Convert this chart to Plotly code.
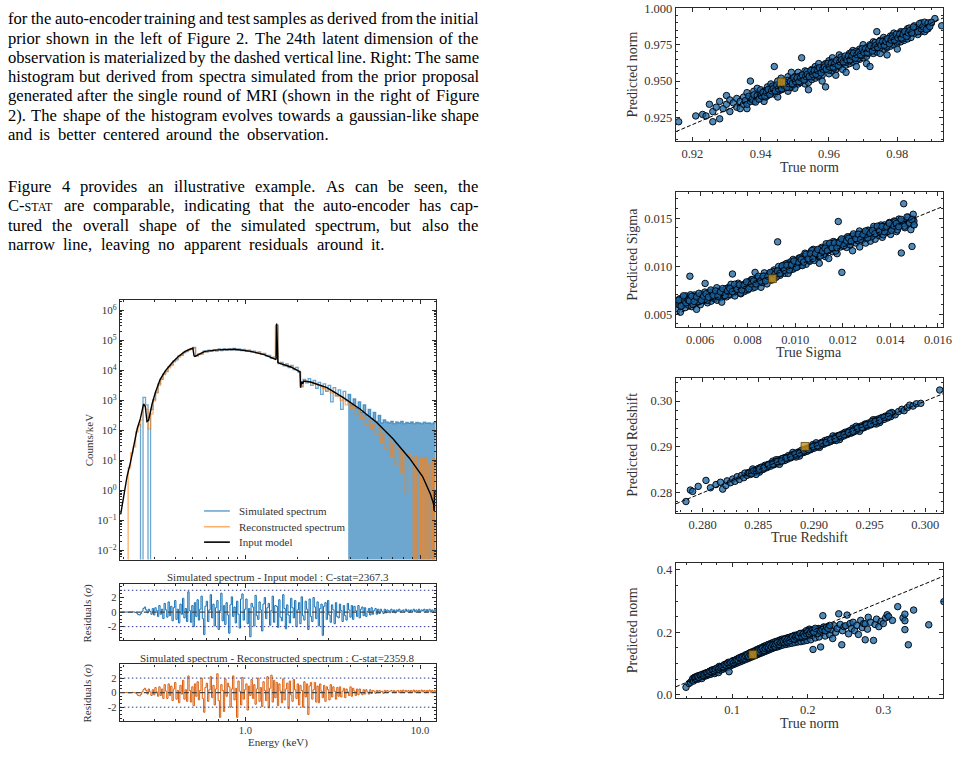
import numpy as np
import plotly.graph_objects as go

# ===================== DATA =====================
# Input model (black): energy (keV) and log10(counts/keV)
model_E = [0.193, 0.201, 0.210, 0.220, 0.230, 0.240, 0.250, 0.261, 0.267, 0.273,
           0.279, 0.292, 0.305, 0.325, 0.347, 0.379, 0.413, 0.451, 0.500, 0.508,
           0.514, 0.535, 0.585, 0.697, 0.867, 1.076, 1.28, 1.49, 1.500, 1.510,
           1.520, 1.535, 1.56, 1.82, 2.02, 2.055, 2.07, 2.10, 2.13, 2.16,
           2.36, 2.93, 3.64, 4.53, 5.63, 7.00, 8.70, 10.35, 11.5, 11.95,
           12.05, 12.1, 12.3]
model_logC = [-0.80, -0.14, 0.46, 0.95, 1.50, 2.05, 2.38, 2.875, 2.80, 2.29,
              2.33, 2.875, 3.26, 3.70, 3.97, 4.24, 4.46, 4.63, 4.74, 4.48,
              4.46, 4.52, 4.63, 4.68, 4.70, 4.63, 4.52, 4.36, 4.38, 5.56,
              4.30, 4.26, 4.24, 4.11, 3.97, 3.95, 3.42, 3.62, 3.55, 3.64,
              3.61, 3.42, 3.09, 2.71, 2.27, 1.72, 1.07, 0.46, -0.14, -0.45,
              -0.69, -0.05, -0.05]

# Simulated spectrum (log10 counts/keV, -6 = empty channel), channels 0.243-12.3 keV
sim_logC = [2.20, -6, 3.10, 2.85, -6, 2.70, 3.02, 3.25, 3.55, 3.70,
            3.88, 3.96, 4.12, 4.17, 4.31, 4.35, 4.48, 4.50, 4.60, 4.62,
            4.70, 4.72, 4.76, 4.48, 4.55, 4.54, 4.64, 4.61, 4.67, 4.63,
            4.69, 4.64, 4.71, 4.66, 4.72, 4.67, 4.71, 4.68, 4.73, 4.67,
            4.71, 4.66, 4.70, 4.63, 4.67, 4.61, 4.64, 4.57, 4.61, 4.53,
            4.56, 4.47, 4.50, 4.40, 4.44, 5.50, 4.22, 4.26, 4.15, 4.21,
            4.09, 4.16, 4.02, 4.10, 3.93, 3.45, 3.70, 3.58, 3.72, 3.50,
            3.66, 3.40, 3.60, 3.20, 3.55, 3.30, 3.50, 2.95, 3.42, 3.15,
            3.35, 2.70, 3.30, 2.98, 3.20, 2.85, 3.05, 2.75, 2.95, 2.60,
            2.85, 2.50, 2.70, 2.40, 2.60, 2.30, 2.50, 2.25, 2.35, 2.28,
            2.25, 2.30, 2.22, 2.28, 2.25, 2.30, 2.22, 2.26, 2.24, 2.28,
            2.22, 2.26, 2.25, 2.22, 2.27, 2.24, 2.25, 2.22, 2.26, 2.24]

# Reconstructed spectrum (log10 counts/keV), channels 0.206-12.2 keV
rec_logC = [-6, 0.75, 1.25, 1.45, 1.95, 2.15, 2.35, 2.80, 2.70, 2.05,
            2.55, 2.98, 3.27, 3.50, 3.71, 3.86, 3.97, 4.08, 4.19, 4.28,
            4.37, 4.44, 4.51, 4.57, 4.63, 4.67, 4.70, 4.73, 4.47, 4.52,
            4.56, 4.60, 4.62, 4.64, 4.65, 4.66, 4.67, 4.68, 4.68, 4.69,
            4.69, 4.69, 4.70, 4.70, 4.70, 4.69, 4.68, 4.67, 4.66, 4.64,
            4.63, 4.61, 4.60, 4.58, 4.55, 4.53, 4.50, 4.47, 4.43, 4.40,
            5.45, 4.26, 4.22, 4.19, 4.16, 4.14, 4.11, 4.07, 4.02, 3.97,
            3.48, 3.62, 3.63, 3.61, 3.60, 3.56, 3.54, 3.50, 3.46, 3.40,
            3.35, 3.36, 3.25, 3.28, 3.15, 3.12, 3.00, 3.05, 2.85, 2.92,
            2.70, 2.80, 2.55, 2.68, 2.40, 2.50, 2.20, 2.35, 2.05, 2.20,
            1.85, 2.05, 1.60, 1.90, 1.40, 1.70, 1.10, 1.55, 0.85, 1.40,
            0.60, 1.30, -0.10, 1.20, 1.10, 0.95, 1.15, -6, 1.05, 1.00,
            1.10, 0.90, -6, 1.05, 1.00]

# Residuals (sigma), channels 0.193-12.3 keV
res_sim = [0, 0, 0, 0, 0.02, 0, -0.02, 0, 0, 0.03, 0, -0.05, -0.15, -0.35, -0.4, -0.2, 0.1, 0.5, 0.7, 0.3,
           -0.1, 0.4, 0.1, -0.3, 0.5, -0.4, 0.6, 0.2, -0.6, 0.9, -0.3, 0.4, -0.9, 1.2, 0.3, -0.7, 1.4, -0.5, 0.8, -1.2,
           0.6, 1.6, -1.0, 0.4, -1.5, 1.1, -0.3, 1.9, -0.8, 0.5, -1.3, 2.8, 0.2, -1.4, 0.9, -2.0, 1.3, -0.6, 1.7, -1.1,
           0.4, 2.2, -0.9, -3.1, 0.8, 1.5, -1.3, 0.3, 2.4, -0.8, 1.1, -1.9, 0.6, 1.6, -2.4, 0.2, 2.6, -1.2, 0.9, -1.7,
           1.3, -0.4, -2.9, 1.0, 2.1, -0.6, 0.7, -1.5, 1.5, -0.3, -2.2, 1.8, 2.5, -1.1, 0.4, 1.8, -1.6, 0.5, -3.4, 1.2,
           0.7, -1.9, 2.3, -0.5, -1.0, 1.4, 0.3, -2.6, 1.1, 2.0, -0.9, 0.6, 1.2, -1.8, 0.2, 2.2, -1.4, 0.9, 0.8, -2.1,
           1.7, -0.7, -1.2, 2.4, 0.5, -2.3, 1.0, -0.4, -1.5, 1.9, 0.6, -0.8, 1.6, -2.0, 0.3, 1.3, -1.6, 2.1, -0.5, -1.1,
           1.5, 0.4, -2.4, 1.8, -0.6, -1.3, 2.0, 0.7, -0.9, 1.4, -1.9, 0.5, 1.1, -3.2, 0.8, 1.3, -1.0, 1.6, -0.4, -1.4,
           1.0, 0.3, -1.6, 1.3, -0.6, -0.8, 1.1, 0.2, -1.3, 0.9, -0.5, -1.1, 1.2, 0.3, -0.7, 0.9, -1.0, 0.8, 0.2, -0.6,
           0.9, -0.8, 0.4, 0.7, -0.5, 0.6, -0.6, 0.1, 0.5, -0.4, 0.6, -0.3, 0.2, 0.5, -0.3, 0.4, -0.2, 0.4, 0.1, -0.2,
           0.4, -0.1, 0.3, 0.2, -0.1, 0.4, 0.0, 0.3, -0.1, 0.3, 0.1, 0.4, 0.0, 0.2, 0.3, 0.0, 0.4, 0.1, 0.3, 0.0,
           0.3, 0.1, 0.4, 0.05, 0.3, 0.1, 0.4, 0.0, 0.3, 0.15, 0.4, 0.05, 0.35, 0.1, 0.4, 0.0, 0.3, 0.1, 0.35, 0.1]
res_rec = [0, 0, 0, 0, 0.03, 0, -0.02, 0, 0, 0.04, 0, -0.06, -0.2, -0.4, -0.45, -0.25, 0.1, 0.4, 0.6, 0.3,
           -0.2, 0.5, 0.1, -0.4, 0.4, -0.3, 0.7, 0.1, -0.5, 0.8, -0.4, 0.5, -0.8, 1.1, 0.2, -0.8, 1.2, -0.4, 0.9, -1.1,
           0.5, 1.4, -0.9, 0.3, -1.4, 1.0, -0.2, 1.7, -0.9, 0.4, -1.2, 2.3, 0.3, -1.3, 0.8, -1.8, 1.2, -0.5, 1.5, -1.0,
           0.3, 2.0, -0.8, -2.7, 0.7, 1.3, -1.2, 0.4, 2.2, -0.7, 1.0, -1.7, 0.5, 2.6, -1.1, -3.4, 1.1, 0.3, -2.6, 1.9,
           -0.5, 1.3, 0.8, -2.0, 0.5, 2.3, -1.0, 0.6, -3.4, 1.6, 0.2, -1.7, 2.1, -0.9, 0.4, 1.2, -2.4, 0.9, -0.4, 1.8,
           -0.8, 1.1, -1.6, 0.5, 2.0, -1.2, 0.7, -1.9, 1.5, 0.3, -1.1, 2.2, -2.1, 0.6, 2.4, -1.3, 1.7, -0.7, 1.4, -1.8,
           1.2, 0.2, -1.4, 1.9, -1.0, 0.5, 1.3, -2.2, 1.6, -0.3, -1.2, 1.8, 0.4, -0.8, 1.2, -1.7, 1.0, 0.3, -2.0, 1.5,
           -0.6, 1.2, -3.0, 0.9, 1.4, -0.9, 0.4, 1.4, -1.3, 0.9, -1.4, 1.2, 0.2, -0.7, 1.0, -1.2, 0.8, 0.4, -1.0, 1.1,
           -0.6, 0.8, 0.2, -0.9, 0.7, -0.5, 0.8, -0.6, 0.2, 0.6, -0.7, 0.5, 0.1, -0.4, 0.8, -0.5, 0.6, 0.2, -0.4, 0.5,
           -0.3, 0.5, 0.0, -0.3, 0.4, -0.2, 0.4, 0.1, -0.2, 0.4, -0.1, 0.3, 0.2, -0.1, 0.3, 0.0, 0.3, 0.1, 0.2, -0.1,
           0.3, 0.0, 0.3, 0.1, 0.2, 0.3, 0.0, 0.3, 0.1, 0.2, 0.3, 0.0, 0.3, 0.1, 0.35, 0.0, 0.3, 0.1, 0.3, 0.05,
           0.3, 0.1, 0.35, 0.05, 0.3, 0.1, 0.3, 0.0, 0.35, 0.1, 0.3, 0.05, 0.3, 0.1, 0.35, 0.0, 0.3, 0.1, 0.3, 0.1]

cstat_sim = "2367.3"
cstat_rec = "2359.8"

# Scatter panels: (true, predicted)
norm1_pts = [
    (0.916, 0.922), (0.921, 0.926), (0.923, 0.927), (0.924, 0.926), (0.925, 0.934), (0.926, 0.922), (0.926, 0.929), (0.927, 0.932), (0.928, 0.936), (0.928, 0.924),
    (0.929, 0.931), (0.930, 0.940), (0.930, 0.934), (0.931, 0.929), (0.931, 0.937), (0.932, 0.935), (0.933, 0.932), (0.933, 0.938), (0.934, 0.936), (0.934, 0.931),
    (0.935, 0.939), (0.935, 0.934), (0.936, 0.931), (0.936, 0.942), (0.937, 0.950), (0.937, 0.938), (0.938, 0.936), (0.938, 0.943), (0.939, 0.940), (0.939, 0.945),
    (0.940, 0.938), (0.940, 0.944), (0.941, 0.942), (0.941, 0.936), (0.942, 0.946), (0.942, 0.940), (0.943, 0.948), (0.943, 0.944), (0.944, 0.960), (0.944, 0.941),
    (0.944, 0.946), (0.945, 0.943), (0.945, 0.950), (0.945, 0.939), (0.946, 0.947), (0.946, 0.952), (0.946, 0.944), (0.947, 0.949), (0.947, 0.945), (0.948, 0.953),
    (0.948, 0.947), (0.948, 0.943), (0.949, 0.951), (0.949, 0.946), (0.949, 0.956), (0.950, 0.949), (0.950, 0.953), (0.950, 0.945), (0.951, 0.952), (0.951, 0.948),
    (0.951, 0.956), (0.952, 0.950), (0.952, 0.954), (0.952, 0.966), (0.953, 0.951), (0.953, 0.948), (0.953, 0.957), (0.954, 0.953), (0.954, 0.949), (0.954, 0.944),
    (0.955, 0.955), (0.955, 0.958), (0.955, 0.951), (0.956, 0.954), (0.956, 0.960), (0.956, 0.952), (0.957, 0.956), (0.957, 0.953), (0.957, 0.962), (0.958, 0.957),
    (0.958, 0.954), (0.958, 0.950), (0.959, 0.959), (0.959, 0.946), (0.959, 0.962), (0.960, 0.958), (0.960, 0.955), (0.960, 0.964), (0.961, 0.960), (0.961, 0.957),
    (0.961, 0.966), (0.962, 0.961), (0.962, 0.958), (0.962, 0.954), (0.963, 0.963), (0.963, 0.960), (0.963, 0.968), (0.964, 0.962), (0.964, 0.958), (0.964, 0.965),
    (0.965, 0.964), (0.965, 0.961), (0.965, 0.956), (0.966, 0.965), (0.966, 0.969), (0.966, 0.962), (0.967, 0.966), (0.967, 0.963), (0.967, 0.971), (0.968, 0.967),
    (0.968, 0.964), (0.968, 0.960), (0.969, 0.968), (0.969, 0.972), (0.969, 0.965), (0.970, 0.969), (0.970, 0.966), (0.970, 0.975), (0.971, 0.970), (0.971, 0.967),
    (0.971, 0.962), (0.972, 0.971), (0.972, 0.975), (0.972, 0.960), (0.973, 0.972), (0.973, 0.969), (0.973, 0.977), (0.974, 0.973), (0.974, 0.970), (0.974, 0.984),
    (0.975, 0.974), (0.975, 0.978), (0.975, 0.969), (0.976, 0.975), (0.976, 0.972), (0.976, 0.980), (0.977, 0.976), (0.977, 0.973), (0.977, 0.968), (0.978, 0.977),
    (0.978, 0.981), (0.978, 0.974), (0.979, 0.978), (0.979, 0.975), (0.979, 0.983), (0.980, 0.979), (0.980, 0.976), (0.980, 0.972), (0.981, 0.980), (0.981, 0.984),
    (0.981, 0.977), (0.982, 0.981), (0.982, 0.978), (0.983, 0.982), (0.983, 0.986), (0.983, 0.979), (0.984, 0.983), (0.984, 0.980), (0.985, 0.984), (0.985, 0.988),
    (0.986, 0.985), (0.986, 0.982), (0.987, 0.990), (0.987, 0.984), (0.988, 0.984), (0.988, 0.987), (0.989, 0.986), (0.990, 0.990), (0.991, 0.993), (0.993, 0.988),
    (0.9355, 0.9365), (0.9360, 0.9340), (0.9365, 0.9395), (0.9370, 0.9360), (0.9375, 0.9375), (0.9380, 0.9405), (0.9385, 0.9355), (0.9390, 0.9400), (0.9395, 0.9375), (0.9400, 0.9405),
    (0.9405, 0.9395), (0.9410, 0.9430), (0.9415, 0.9390), (0.9420, 0.9435), (0.9425, 0.9425), (0.9430, 0.9415), (0.9435, 0.9465), (0.9440, 0.9435), (0.9445, 0.9455), (0.9450, 0.9430),
    (0.9455, 0.9465), (0.9460, 0.9440), (0.9465, 0.9495), (0.9470, 0.9460), (0.9475, 0.9475), (0.9480, 0.9505), (0.9485, 0.9455), (0.9490, 0.9500), (0.9495, 0.9475), (0.9500, 0.9505),
    (0.9505, 0.9495), (0.9510, 0.9530), (0.9515, 0.9490), (0.9520, 0.9535), (0.9525, 0.9525), (0.9530, 0.9515), (0.9535, 0.9565), (0.9540, 0.9535), (0.9545, 0.9555), (0.9550, 0.9530),
    (0.9555, 0.9555), (0.9560, 0.9545), (0.9565, 0.9585), (0.9570, 0.9540), (0.9575, 0.9585), (0.9580, 0.9575), (0.9585, 0.9610), (0.9590, 0.9580), (0.9595, 0.9600), (0.9600, 0.9575),
    (0.9605, 0.9595), (0.9610, 0.9630), (0.9615, 0.9590), (0.9620, 0.9635), (0.9625, 0.9625), (0.9630, 0.9615), (0.9635, 0.9665), (0.9640, 0.9635), (0.9645, 0.9655), (0.9650, 0.9630),
    (0.9655, 0.9665), (0.9660, 0.9640), (0.9665, 0.9695), (0.9670, 0.9660), (0.9675, 0.9675), (0.9680, 0.9705), (0.9685, 0.9655), (0.9690, 0.9700), (0.9695, 0.9675), (0.9700, 0.9705),
    (0.9705, 0.9695), (0.9710, 0.9730), (0.9715, 0.9690), (0.9720, 0.9735), (0.9725, 0.9725), (0.9730, 0.9715), (0.9735, 0.9765), (0.9740, 0.9735), (0.9745, 0.9755), (0.9750, 0.9730),
    (0.9755, 0.9755), (0.9760, 0.9745), (0.9765, 0.9785), (0.9770, 0.9740), (0.9775, 0.9785), (0.9780, 0.9775), (0.9785, 0.9810), (0.9790, 0.9780), (0.9795, 0.9800), (0.9800, 0.9775),
    (0.9805, 0.9795), (0.9810, 0.9830), (0.9815, 0.9790), (0.9820, 0.9835), (0.9825, 0.9825), (0.9830, 0.9815), (0.9835, 0.9865), (0.9840, 0.9835), (0.9845, 0.9855), (0.9850, 0.9830),
    (0.9855, 0.9865), (0.9860, 0.9840), (0.9865, 0.9895), (0.9870, 0.9860), (0.9875, 0.9875), (0.9880, 0.9905), (0.9885, 0.9855), (0.9890, 0.9900), (0.9895, 0.9875), (0.9900, 0.9905),
    (0.9402, 0.9397), (0.9407, 0.9422), (0.9412, 0.9397), (0.9417, 0.9422), (0.9422, 0.9442), (0.9427, 0.9407), (0.9432, 0.9432), (0.9437, 0.9447), (0.9442, 0.9432), (0.9447, 0.9472),
    (0.9452, 0.9447), (0.9457, 0.9472), (0.9462, 0.9447), (0.9467, 0.9472), (0.9472, 0.9492), (0.9477, 0.9457), (0.9482, 0.9482), (0.9487, 0.9497), (0.9492, 0.9482), (0.9497, 0.9522),
    (0.9502, 0.9497), (0.9507, 0.9522), (0.9512, 0.9497), (0.9517, 0.9522), (0.9522, 0.9542), (0.9527, 0.9507), (0.9532, 0.9532), (0.9537, 0.9547), (0.9542, 0.9532), (0.9547, 0.9572),
    (0.9552, 0.9547), (0.9557, 0.9572), (0.9562, 0.9547), (0.9567, 0.9572), (0.9572, 0.9592), (0.9577, 0.9557), (0.9582, 0.9582), (0.9587, 0.9597), (0.9592, 0.9582), (0.9597, 0.9622),
    (0.9602, 0.9597), (0.9607, 0.9622), (0.9612, 0.9597), (0.9617, 0.9622), (0.9622, 0.9642), (0.9627, 0.9607), (0.9632, 0.9632), (0.9637, 0.9647), (0.9642, 0.9632), (0.9647, 0.9672),
    (0.9652, 0.9647), (0.9657, 0.9672), (0.9662, 0.9647), (0.9667, 0.9672), (0.9672, 0.9692), (0.9677, 0.9657), (0.9682, 0.9682), (0.9687, 0.9697), (0.9692, 0.9682), (0.9697, 0.9722),
    (0.9702, 0.9697), (0.9707, 0.9722), (0.9712, 0.9697), (0.9717, 0.9722), (0.9722, 0.9742), (0.9727, 0.9707), (0.9732, 0.9732), (0.9737, 0.9747), (0.9742, 0.9732), (0.9747, 0.9772),
    (0.9752, 0.9747), (0.9757, 0.9772), (0.9762, 0.9747), (0.9767, 0.9772), (0.9772, 0.9792), (0.9777, 0.9757), (0.9782, 0.9782), (0.9787, 0.9797), (0.9792, 0.9782), (0.9797, 0.9822),
    (0.9802, 0.9797), (0.9807, 0.9822), (0.9812, 0.9797), (0.9817, 0.9822), (0.9822, 0.9842), (0.9827, 0.9807), (0.9832, 0.9832), (0.9837, 0.9847), (0.9842, 0.9832), (0.9847, 0.9872),
]
sigma_pts = [
    (0.00502, 0.00615), (0.00505, 0.00555), (0.00508, 0.00640), (0.00511, 0.00598), (0.00514, 0.00660), (0.00517, 0.00520), (0.00520, 0.00628), (0.00523, 0.00585), (0.00526, 0.00672), (0.00529, 0.00606),
    (0.00533, 0.00645), (0.00537, 0.00568), (0.00541, 0.00690), (0.00545, 0.00620), (0.00549, 0.00596), (0.00553, 0.00655), (0.00557, 0.00895), (0.00561, 0.00632), (0.00565, 0.00578), (0.00569, 0.00668),
    (0.00573, 0.00610), (0.00577, 0.00700), (0.00581, 0.00645), (0.00585, 0.00550), (0.00589, 0.00628), (0.00593, 0.00682), (0.00597, 0.00660), (0.00601, 0.00598), (0.00606, 0.00705), (0.00611, 0.00672),
    (0.00616, 0.00640), (0.00621, 0.00820), (0.00626, 0.00690), (0.00631, 0.00618), (0.00636, 0.00712), (0.00641, 0.00665), (0.00646, 0.00635), (0.00651, 0.00730), (0.00656, 0.00690), (0.00661, 0.00660),
    (0.00666, 0.00715), (0.00671, 0.00645), (0.00676, 0.00740), (0.00681, 0.00700), (0.00686, 0.00672), (0.00691, 0.00625), (0.00696, 0.00735), (0.00701, 0.00705), (0.00706, 0.00760), (0.00711, 0.00680),
    (0.00716, 0.00728), (0.00721, 0.00780), (0.00726, 0.00700), (0.00731, 0.00752), (0.00736, 0.00918), (0.00741, 0.00722), (0.00746, 0.00690), (0.00751, 0.00770), (0.00756, 0.00738), (0.00761, 0.00805),
    (0.00766, 0.00750), (0.00771, 0.00712), (0.00776, 0.00790), (0.00781, 0.00768), (0.00786, 0.00735), (0.00791, 0.00820), (0.00796, 0.00785), (0.00801, 0.00752), (0.00806, 0.00840), (0.00811, 0.00800),
    (0.00816, 0.00860), (0.00821, 0.00772), (0.00826, 0.00825), (0.00831, 0.00935), (0.00836, 0.00802), (0.00841, 0.00850), (0.00846, 0.00875), (0.00851, 0.00830), (0.00856, 0.00780), (0.00861, 0.00865),
    (0.00866, 0.00842), (0.00871, 0.00900), (0.00876, 0.00860), (0.00881, 0.00815), (0.00886, 0.00895), (0.00891, 0.00870), (0.00896, 0.00925), (0.00901, 0.00855), (0.00906, 0.00905), (0.00911, 0.00960),
    (0.00916, 0.00885), (0.00921, 0.00930), (0.00926, 0.01253), (0.00931, 0.00950), (0.00936, 0.00905), (0.00941, 0.00985), (0.00946, 0.00948), (0.00951, 0.01010), (0.00956, 0.00925), (0.00961, 0.00975),
    (0.00966, 0.01030), (0.00971, 0.00990), (0.00976, 0.00955), (0.00981, 0.01045), (0.00986, 0.01005), (0.00991, 0.01070), (0.00996, 0.00980), (0.01001, 0.01025), (0.01006, 0.01060), (0.01011, 0.00995),
    (0.01016, 0.01085), (0.01021, 0.01040), (0.01026, 0.01010), (0.01031, 0.01100), (0.01036, 0.01060), (0.01041, 0.01135), (0.01046, 0.01020), (0.01051, 0.01080), (0.01056, 0.01115), (0.01061, 0.01050),
    (0.01066, 0.01150), (0.01071, 0.01095), (0.01076, 0.01175), (0.01081, 0.01060), (0.01086, 0.01120), (0.01091, 0.01160), (0.01096, 0.01105), (0.01101, 0.01030), (0.01106, 0.01145), (0.01111, 0.01195),
    (0.01116, 0.01125), (0.01121, 0.01170), (0.01126, 0.01100), (0.01131, 0.01210), (0.01136, 0.01160), (0.01141, 0.01080), (0.01146, 0.01190), (0.01151, 0.01235), (0.01156, 0.01150), (0.01161, 0.01205),
    (0.01166, 0.01250), (0.01171, 0.01180), (0.01176, 0.01130), (0.01181, 0.01465), (0.01186, 0.01225), (0.01191, 0.01270), (0.01196, 0.00935), (0.01201, 0.01210), (0.01206, 0.01280), (0.01211, 0.01245),
    (0.01216, 0.01195), (0.01221, 0.01300), (0.01226, 0.01255), (0.01231, 0.01220), (0.01236, 0.01310), (0.01241, 0.01160), (0.01246, 0.01275), (0.01251, 0.01320), (0.01256, 0.01240), (0.01261, 0.01290),
    (0.01266, 0.01335), (0.01271, 0.01200), (0.01276, 0.01305), (0.01281, 0.01270), (0.01286, 0.01350), (0.01291, 0.01290), (0.01296, 0.01240), (0.01301, 0.01330), (0.01306, 0.01375), (0.01311, 0.01305),
    (0.01316, 0.01260), (0.01321, 0.01350), (0.01326, 0.01315), (0.01331, 0.01395), (0.01336, 0.01280), (0.01341, 0.01345), (0.01346, 0.01380), (0.01351, 0.01320), (0.01356, 0.01410), (0.01361, 0.01360),
    (0.01366, 0.01300), (0.01371, 0.01395), (0.01376, 0.01430), (0.01381, 0.01350), (0.01386, 0.01415), (0.01391, 0.01380), (0.01396, 0.01455), (0.01401, 0.01330), (0.01406, 0.01425), (0.01411, 0.01395),
    (0.01416, 0.01470), (0.01421, 0.01410), (0.01426, 0.01360), (0.01431, 0.01445), (0.01436, 0.01490), (0.01441, 0.01420), (0.01446, 0.01137), (0.01451, 0.01465), (0.01456, 0.01650), (0.01461, 0.01400),
    (0.01466, 0.01475), (0.01471, 0.01440), (0.01476, 0.01510), (0.01481, 0.01455), (0.01486, 0.01380), (0.01491, 0.01205), (0.01494, 0.01490), (0.01496, 0.01540), (0.01498, 0.01430), (0.01499, 0.01470),
    (0.0051, 0.00647), (0.0052, 0.00584), (0.0053, 0.00691), (0.0054, 0.00618), (0.0055, 0.00645), (0.0056, 0.00702), (0.0057, 0.00599), (0.0058, 0.00686), (0.0059, 0.00633), (0.0060, 0.00690),
    (0.0061, 0.00665), (0.0062, 0.00730), (0.0063, 0.00645), (0.0064, 0.00730), (0.0065, 0.00705), (0.0066, 0.00680), (0.0067, 0.00775), (0.0068, 0.00710), (0.0069, 0.00745), (0.0070, 0.00690),
    (0.0071, 0.00767), (0.0072, 0.00704), (0.0073, 0.00811), (0.0074, 0.00738), (0.0075, 0.00765), (0.0076, 0.00822), (0.0077, 0.00719), (0.0078, 0.00806), (0.0079, 0.00753), (0.0080, 0.00810),
    (0.0081, 0.00790), (0.0082, 0.00860), (0.0083, 0.00780), (0.0084, 0.00870), (0.0085, 0.00850), (0.0086, 0.00830), (0.0087, 0.00930), (0.0088, 0.00870), (0.0089, 0.00910), (0.0090, 0.00860),
    (0.0091, 0.00942), (0.0092, 0.00884), (0.0093, 0.00996), (0.0094, 0.00928), (0.0095, 0.00960), (0.0096, 0.01022), (0.0097, 0.00924), (0.0098, 0.01016), (0.0099, 0.00968), (0.0100, 0.01030),
    (0.0101, 0.01012), (0.0102, 0.01084), (0.0103, 0.01006), (0.0104, 0.01098), (0.0105, 0.01080), (0.0106, 0.01062), (0.0107, 0.01164), (0.0108, 0.01106), (0.0109, 0.01148), (0.0110, 0.01100),
    (0.0111, 0.01181), (0.0112, 0.01122), (0.0113, 0.01233), (0.0114, 0.01164), (0.0115, 0.01195), (0.0116, 0.01256), (0.0117, 0.01157), (0.0118, 0.01248), (0.0119, 0.01199), (0.0120, 0.01260),
    (0.0121, 0.01238), (0.0122, 0.01306), (0.0123, 0.01224), (0.0124, 0.01312), (0.0125, 0.01290), (0.0126, 0.01268), (0.0127, 0.01366), (0.0128, 0.01304), (0.0129, 0.01342), (0.0130, 0.01290),
    (0.0131, 0.01368), (0.0132, 0.01306), (0.0133, 0.01414), (0.0134, 0.01342), (0.0135, 0.01370), (0.0136, 0.01428), (0.0137, 0.01326), (0.0138, 0.01414), (0.0139, 0.01362), (0.0140, 0.01420),
    (0.0141, 0.01396), (0.0142, 0.01462), (0.0143, 0.01378), (0.0144, 0.01464), (0.0145, 0.01440), (0.0146, 0.01416), (0.0147, 0.01512), (0.0148, 0.01448), (0.0149, 0.01484), (0.0150, 0.01430),
    (0.00555, 0.00639), (0.00565, 0.00686), (0.00575, 0.00633), (0.00585, 0.00680), (0.00595, 0.00717), (0.00605, 0.00644), (0.00615, 0.00687), (0.00625, 0.00712), (0.00635, 0.00677), (0.00645, 0.00752),
    (0.00655, 0.00697), (0.00665, 0.00742), (0.00675, 0.00687), (0.00685, 0.00732), (0.00695, 0.00767), (0.00705, 0.00693), (0.00715, 0.00740), (0.00725, 0.00767), (0.00735, 0.00734), (0.00745, 0.00811),
    (0.00755, 0.00758), (0.00765, 0.00805), (0.00775, 0.00752), (0.00785, 0.00799), (0.00795, 0.00836), (0.00805, 0.00765), (0.00815, 0.00815), (0.00825, 0.00845), (0.00835, 0.00815), (0.00845, 0.00895),
    (0.00855, 0.00845), (0.00865, 0.00895), (0.00875, 0.00845), (0.00885, 0.00895), (0.00895, 0.00935), (0.00905, 0.00866), (0.00915, 0.00918), (0.00925, 0.00950), (0.00935, 0.00922), (0.00945, 0.01004),
    (0.00955, 0.00956), (0.00965, 0.01008), (0.00975, 0.00960), (0.00985, 0.01012), (0.00995, 0.01054), (0.01005, 0.00986), (0.01015, 0.01038), (0.01025, 0.01070), (0.01035, 0.01042), (0.01045, 0.01124),
    (0.01055, 0.01076), (0.01065, 0.01128), (0.01075, 0.01080), (0.01085, 0.01132), (0.01095, 0.01174), (0.01105, 0.01105), (0.01115, 0.01156), (0.01125, 0.01187), (0.01135, 0.01158), (0.01145, 0.01239),
    (0.01155, 0.01190), (0.01165, 0.01241), (0.01175, 0.01192), (0.01185, 0.01243), (0.01195, 0.01284), (0.01205, 0.01214), (0.01215, 0.01262), (0.01225, 0.01290), (0.01235, 0.01258), (0.01245, 0.01336),
    (0.01255, 0.01284), (0.01265, 0.01332), (0.01275, 0.01280), (0.01285, 0.01328), (0.01295, 0.01366), (0.01305, 0.01294), (0.01315, 0.01342), (0.01325, 0.01370), (0.01335, 0.01338), (0.01345, 0.01416),
    (0.01355, 0.01364), (0.01365, 0.01412), (0.01375, 0.01360), (0.01385, 0.01408), (0.01395, 0.01446), (0.01405, 0.01373), (0.01415, 0.01419), (0.01425, 0.01445), (0.01435, 0.01411), (0.01445, 0.01487),
]
redshift_pts = [
    (0.2785, 0.2781), (0.2789, 0.2806), (0.2791, 0.2803), (0.2796, 0.2814), (0.2803, 0.2827), (0.2807, 0.2811), (0.2812, 0.2818), (0.2816, 0.2823), (0.2818, 0.2808), (0.2821, 0.2816),
    (0.2822, 0.2826), (0.2825, 0.2822), (0.2827, 0.2830), (0.2829, 0.2825), (0.2831, 0.2835), (0.2833, 0.2829), (0.2835, 0.2838), (0.2837, 0.2833), (0.2838, 0.2843), (0.2840, 0.2838),
    (0.2841, 0.2844), (0.2843, 0.2840), (0.2844, 0.2847), (0.2846, 0.2843), (0.2847, 0.2850), (0.2849, 0.2846), (0.2850, 0.2853), (0.2852, 0.2849), (0.2853, 0.2856), (0.2855, 0.2852),
    (0.2856, 0.2860), (0.2858, 0.2855), (0.2859, 0.2862), (0.2861, 0.2858), (0.2862, 0.2865), (0.2864, 0.2861), (0.2865, 0.2868), (0.2867, 0.2864), (0.2868, 0.2872), (0.2870, 0.2867),
    (0.2871, 0.2874), (0.2873, 0.2870), (0.2874, 0.2877), (0.2876, 0.2873), (0.2877, 0.2881), (0.2879, 0.2876), (0.2880, 0.2883), (0.2882, 0.2879), (0.2883, 0.2886), (0.2885, 0.2882),
    (0.2886, 0.2889), (0.2888, 0.2885), (0.2889, 0.2893), (0.2891, 0.2888), (0.2892, 0.2895), (0.2894, 0.2891), (0.2895, 0.2898), (0.2897, 0.2894), (0.2898, 0.2901), (0.2900, 0.2897),
    (0.2901, 0.2905), (0.2903, 0.2900), (0.2904, 0.2907), (0.2906, 0.2903), (0.2907, 0.2910), (0.2909, 0.2906), (0.2910, 0.2914), (0.2912, 0.2909), (0.2913, 0.2916), (0.2915, 0.2912),
    (0.2916, 0.2919), (0.2918, 0.2915), (0.2919, 0.2923), (0.2921, 0.2918), (0.2922, 0.2925), (0.2924, 0.2921), (0.2925, 0.2928), (0.2927, 0.2924), (0.2928, 0.2932), (0.2930, 0.2927),
    (0.2931, 0.2934), (0.2933, 0.2930), (0.2934, 0.2937), (0.2936, 0.2933), (0.2937, 0.2941), (0.2939, 0.2936), (0.2940, 0.2943), (0.2942, 0.2939), (0.2943, 0.2946), (0.2945, 0.2942),
    (0.2946, 0.2950), (0.2948, 0.2945), (0.2949, 0.2952), (0.2951, 0.2948), (0.2952, 0.2955), (0.2954, 0.2951), (0.2955, 0.2959), (0.2957, 0.2954), (0.2958, 0.2961), (0.2960, 0.2957),
    (0.2961, 0.2964), (0.2963, 0.2960), (0.2964, 0.2967), (0.2966, 0.2963), (0.2967, 0.2970), (0.2969, 0.2966), (0.2971, 0.2972), (0.2973, 0.2970),
    (0.2845, 0.2852), (0.2851, 0.2845), (0.2857, 0.2857), (0.2863, 0.2869), (0.2869, 0.2862), (0.2875, 0.2876), (0.2881, 0.2888), (0.2887, 0.2880), (0.2893, 0.2893), (0.2899, 0.2905),
    (0.2905, 0.2899), (0.2911, 0.2911), (0.2917, 0.2924), (0.2923, 0.2916), (0.2929, 0.2929), (0.2935, 0.2941), (0.2941, 0.2934), (0.2947, 0.2947), (0.2953, 0.2959), (0.2959, 0.2953),
    (0.2965, 0.2965), (0.2970, 0.2975), (0.2848, 0.2840), (0.2866, 0.2872), (0.2884, 0.2878), (0.2902, 0.2909), (0.2920, 0.2914), (0.2938, 0.2945), (0.2956, 0.2950), (0.2968, 0.2973),
    (0.2976, 0.2977), (0.2979, 0.2982), (0.2981, 0.2979), (0.2984, 0.2986), (0.2986, 0.2991), (0.2989, 0.2989), (0.2992, 0.2994), (0.2996, 0.2995), (0.3013, 0.3024),
    (0.2842, 0.2843), (0.2844, 0.2842), (0.2846, 0.2848), (0.2848, 0.2848), (0.2850, 0.2849), (0.2852, 0.2855), (0.2854, 0.2851), (0.2856, 0.2857), (0.2858, 0.2857), (0.2860, 0.2862),
    (0.2862, 0.2863), (0.2864, 0.2862), (0.2866, 0.2868), (0.2868, 0.2868), (0.2870, 0.2869), (0.2872, 0.2875), (0.2874, 0.2871), (0.2876, 0.2877), (0.2878, 0.2877), (0.2880, 0.2882),
    (0.2882, 0.2883), (0.2884, 0.2882), (0.2886, 0.2888), (0.2888, 0.2888), (0.2890, 0.2889), (0.2892, 0.2895), (0.2894, 0.2891), (0.2896, 0.2897), (0.2898, 0.2897), (0.2900, 0.2902),
    (0.2902, 0.2903), (0.2904, 0.2902), (0.2906, 0.2908), (0.2908, 0.2908), (0.2910, 0.2909), (0.2912, 0.2915), (0.2914, 0.2911), (0.2916, 0.2917), (0.2918, 0.2917), (0.2920, 0.2922),
    (0.2922, 0.2923), (0.2924, 0.2922), (0.2926, 0.2928), (0.2928, 0.2928), (0.2930, 0.2929), (0.2932, 0.2935), (0.2934, 0.2931), (0.2936, 0.2937), (0.2938, 0.2937), (0.2940, 0.2942),
    (0.2942, 0.2943), (0.2944, 0.2942), (0.2946, 0.2948), (0.2948, 0.2948), (0.2950, 0.2949), (0.2952, 0.2955), (0.2954, 0.2951), (0.2956, 0.2957), (0.2958, 0.2957), (0.2960, 0.2962),
    (0.2851, 0.28515), (0.2855, 0.2854), (0.2859, 0.28605), (0.2863, 0.28625), (0.2867, 0.2868), (0.2871, 0.28695), (0.2875, 0.28755), (0.2879, 0.2878), (0.2883, 0.28845), (0.2887, 0.28865),
    (0.2891, 0.28915), (0.2895, 0.2894), (0.2899, 0.29005), (0.2903, 0.29025), (0.2907, 0.2908), (0.2911, 0.29095), (0.2915, 0.29155), (0.2919, 0.2918), (0.2923, 0.29245), (0.2927, 0.29265),
    (0.2931, 0.29315), (0.2935, 0.2934), (0.2939, 0.29405), (0.2943, 0.29425), (0.2947, 0.2948), (0.2951, 0.29495), (0.2955, 0.29555), (0.2959, 0.2958), (0.2963, 0.29645), (0.2967, 0.29665),
]
norm2_pts = [
    (0.039, 0.024), (0.043, 0.036), (0.045, 0.040), (0.047, 0.046), (0.048, 0.052), (0.049, 0.044), (0.050, 0.055), (0.051, 0.049), (0.052, 0.058), (0.053, 0.052),
    (0.054, 0.056), (0.055, 0.050), (0.056, 0.060), (0.057, 0.054), (0.058, 0.063), (0.059, 0.057), (0.060, 0.052), (0.061, 0.062), (0.062, 0.066), (0.063, 0.059),
    (0.064, 0.064), (0.065, 0.070), (0.066, 0.061), (0.067, 0.067), (0.068, 0.072), (0.069, 0.064), (0.070, 0.069), (0.071, 0.075), (0.072, 0.066), (0.073, 0.072),
    (0.074, 0.078), (0.075, 0.070), (0.076, 0.075), (0.077, 0.068), (0.078, 0.080), (0.079, 0.074), (0.080, 0.083), (0.081, 0.077), (0.082, 0.071), (0.083, 0.082),
    (0.084, 0.087), (0.085, 0.079), (0.086, 0.085), (0.087, 0.091), (0.088, 0.082), (0.089, 0.088), (0.090, 0.094), (0.091, 0.085), (0.092, 0.092), (0.093, 0.098),
    (0.094, 0.088), (0.095, 0.096), (0.096, 0.074), (0.097, 0.101), (0.098, 0.093), (0.099, 0.099), (0.100, 0.106), (0.101, 0.096), (0.102, 0.103), (0.103, 0.110),
    (0.104, 0.099), (0.105, 0.107), (0.106, 0.114), (0.107, 0.102), (0.108, 0.110), (0.109, 0.118), (0.110, 0.105), (0.111, 0.113), (0.112, 0.121), (0.113, 0.108),
    (0.114, 0.117), (0.115, 0.124), (0.116, 0.111), (0.117, 0.120), (0.118, 0.128), (0.119, 0.114), (0.120, 0.123), (0.121, 0.131), (0.122, 0.117), (0.123, 0.126),
    (0.124, 0.135), (0.125, 0.120), (0.126, 0.130), (0.127, 0.138), (0.128, 0.123), (0.129, 0.133), (0.130, 0.141), (0.131, 0.126), (0.132, 0.136), (0.133, 0.145),
    (0.134, 0.129), (0.135, 0.140), (0.136, 0.148), (0.137, 0.132), (0.138, 0.143), (0.139, 0.151), (0.140, 0.135), (0.141, 0.146), (0.142, 0.155), (0.143, 0.138),
    (0.144, 0.149), (0.145, 0.158), (0.146, 0.141), (0.147, 0.152), (0.148, 0.161), (0.149, 0.144), (0.150, 0.155), (0.151, 0.164), (0.152, 0.147), (0.153, 0.158),
    (0.154, 0.167), (0.155, 0.150), (0.156, 0.160), (0.157, 0.170), (0.158, 0.152), (0.159, 0.163), (0.160, 0.172), (0.161, 0.154), (0.162, 0.166), (0.163, 0.175),
    (0.164, 0.157), (0.165, 0.168), (0.166, 0.178), (0.167, 0.159), (0.168, 0.170), (0.170, 0.180), (0.171, 0.161), (0.172, 0.173), (0.174, 0.183), (0.175, 0.163),
    (0.176, 0.175), (0.178, 0.186), (0.179, 0.165), (0.180, 0.177), (0.182, 0.190), (0.183, 0.167), (0.184, 0.179), (0.186, 0.192), (0.187, 0.169), (0.188, 0.181),
    (0.190, 0.195), (0.191, 0.170), (0.192, 0.183), (0.194, 0.198), (0.195, 0.172), (0.196, 0.185), (0.198, 0.205), (0.199, 0.174), (0.200, 0.188), (0.202, 0.210),
    (0.204, 0.176), (0.206, 0.190), (0.207, 0.145), (0.208, 0.200), (0.210, 0.182), (0.212, 0.195), (0.214, 0.212), (0.215, 0.185), (0.217, 0.153), (0.218, 0.198),
    (0.220, 0.253), (0.221, 0.215), (0.223, 0.188), (0.225, 0.205), (0.227, 0.218), (0.229, 0.192), (0.231, 0.208), (0.233, 0.180), (0.235, 0.221), (0.237, 0.200),
    (0.239, 0.212), (0.241, 0.259), (0.243, 0.225), (0.245, 0.160), (0.246, 0.205), (0.248, 0.218), (0.250, 0.221), (0.252, 0.255), (0.254, 0.195), (0.256, 0.228),
    (0.258, 0.212), (0.260, 0.232), (0.262, 0.205), (0.265, 0.222), (0.267, 0.193), (0.270, 0.238), (0.272, 0.215), (0.274, 0.228), (0.276, 0.176), (0.276, 0.227),
    (0.279, 0.210), (0.280, 0.248), (0.283, 0.232), (0.287, 0.174), (0.289, 0.225), (0.291, 0.242), (0.294, 0.218), (0.297, 0.235), (0.300, 0.228), (0.303, 0.246),
    (0.305, 0.256), (0.307, 0.250), (0.312, 0.238), (0.319, 0.282), (0.326, 0.246), (0.3285, 0.258), (0.3285, 0.237), (0.3285, 0.2085), (0.333, 0.160), (0.340, 0.271),
    (0.360, 0.224), (0.380, 0.298),
    (0.051, 0.055), (0.053, 0.052), (0.055, 0.061), (0.057, 0.058), (0.059, 0.061), (0.061, 0.066), (0.063, 0.061), (0.065, 0.068), (0.067, 0.067), (0.069, 0.072),
    (0.071, 0.072), (0.073, 0.079), (0.075, 0.074), (0.077, 0.082), (0.079, 0.082), (0.081, 0.081), (0.083, 0.091), (0.085, 0.087), (0.087, 0.092), (0.089, 0.088),
    (0.091, 0.098), (0.093, 0.093), (0.095, 0.104), (0.097, 0.099), (0.099, 0.103), (0.101, 0.109), (0.103, 0.102), (0.105, 0.111), (0.107, 0.108), (0.109, 0.114),
    (0.111, 0.112), (0.113, 0.121), (0.115, 0.113), (0.117, 0.123), (0.119, 0.123), (0.121, 0.121), (0.123, 0.133), (0.125, 0.128), (0.127, 0.134), (0.129, 0.128),
    (0.131, 0.139), (0.133, 0.132), (0.135, 0.145), (0.137, 0.139), (0.139, 0.143), (0.141, 0.150), (0.143, 0.141), (0.145, 0.151), (0.147, 0.147), (0.149, 0.154),
    (0.151, 0.150), (0.153, 0.161), (0.155, 0.152), (0.157, 0.163), (0.159, 0.162), (0.161, 0.159), (0.163, 0.172), (0.165, 0.166), (0.167, 0.174), (0.169, 0.166),
    (0.171, 0.176), (0.173, 0.168), (0.175, 0.182), (0.177, 0.175), (0.179, 0.180), (0.181, 0.187), (0.183, 0.177), (0.185, 0.188), (0.187, 0.186), (0.189, 0.191),
    (0.191, 0.183), (0.193, 0.196), (0.195, 0.185), (0.197, 0.197), (0.199, 0.196), (0.201, 0.192), (0.203, 0.207), (0.205, 0.200), (0.207, 0.208), (0.209, 0.199),
    (0.211, 0.207), (0.213, 0.196), (0.215, 0.210), (0.217, 0.204), (0.219, 0.209), (0.221, 0.217), (0.223, 0.205), (0.225, 0.217), (0.227, 0.212), (0.229, 0.222),
    (0.052, 0.0533), (0.054, 0.0574), (0.056, 0.0562), (0.058, 0.0607), (0.060, 0.0641), (0.062, 0.0619), (0.064, 0.0660), (0.066, 0.0691), (0.068, 0.0689), (0.070, 0.0750),
    (0.072, 0.0741), (0.074, 0.0788), (0.076, 0.0767), (0.078, 0.0819), (0.080, 0.0857), (0.082, 0.0823), (0.084, 0.0870), (0.086, 0.0904), (0.088, 0.0896), (0.090, 0.0962),
    (0.092, 0.0950), (0.094, 0.1000), (0.096, 0.0975), (0.098, 0.1030), (0.100, 0.1070), (0.102, 0.1030), (0.104, 0.1080), (0.106, 0.1115), (0.108, 0.1105), (0.110, 0.1175),
    (0.112, 0.1149), (0.114, 0.1202), (0.116, 0.1172), (0.118, 0.1231), (0.120, 0.1273), (0.122, 0.1227), (0.124, 0.1280), (0.126, 0.1317), (0.128, 0.1303), (0.130, 0.1379),
    (0.132, 0.1348), (0.134, 0.1405), (0.136, 0.1369), (0.138, 0.1433), (0.140, 0.1478), (0.142, 0.1423), (0.144, 0.1480), (0.146, 0.1519), (0.148, 0.1501), (0.150, 0.1584),
    (0.152, 0.1537), (0.154, 0.1597), (0.156, 0.1556), (0.158, 0.1624), (0.160, 0.1671), (0.162, 0.1610), (0.164, 0.1670), (0.166, 0.1710), (0.168, 0.1690), (0.170, 0.1777),
    (0.172, 0.1715), (0.174, 0.1780), (0.176, 0.1733), (0.178, 0.1805), (0.180, 0.1855), (0.182, 0.1785), (0.184, 0.1850), (0.186, 0.1893), (0.188, 0.1868), (0.190, 0.1963),
    (0.192, 0.1874), (0.194, 0.1942), (0.196, 0.1890), (0.198, 0.1966), (0.200, 0.2018), (0.202, 0.1952), (0.204, 0.2010), (0.206, 0.2054), (0.208, 0.2006), (0.210, 0.2126),
]
# Observation (square marker) per panel
obs_norm1 = (0.9461, 0.9493)
obs_sigma = (0.00904, 0.00870)
obs_redshift = (0.2892, 0.2901)
obs_norm2 = (0.1275, 0.1286)

# Text (paragraph lines as typeset)
para1 = [
    "for the auto-encoder training and test samples as derived from the initial",
    "prior shown in the left of Figure 2. The 24th latent dimension of the",
    "observation is materialized by the dashed vertical line. Right: The same",
    "histogram but derived from spectra simulated from the prior proposal",
    "generated after the single round of MRI (shown in the right of Figure",
    "2). The shape of the histogram evolves towards a gaussian-like shape",
    "and is better centered around the observation.",
]
para2 = [
    "Figure 4 provides an illustrative example. As can be seen, the",
    "C-STAT are comparable, indicating that the auto-encoder has cap-",
    "tured the overall shape of the simulated spectrum, but also the",
    "narrow line, leaving no apparent residuals around it.",
]
legend_labels = ["Simulated spectrum", "Reconstructed spectrum", "Input model"]

# ===================== FIGURE =====================
W, H = 964, 758
SERIF = "Liberation Serif"
INK = "#2a2a2a"


def fx(p):
    return p / W


def fy(p):
    return 1 - p / H


sim_E = np.logspace(-0.615, 1.090, len(sim_logC))
rec_E = np.logspace(-0.686, 1.086, len(rec_logC))
res_E = np.logspace(-0.715, 1.089, len(res_sim))
sim_C = np.power(10.0, sim_logC)
rec_C = np.power(10.0, rec_logC)
model_C = np.power(10.0, model_logC)

BLUE_A = "rgba(31,119,180,0.65)"
ORANGE_A = "rgba(255,127,14,0.62)"

fig = go.Figure()

# --- main spectrum panel ---
fig.add_trace(go.Scatter(x=sim_E, y=sim_C, mode="lines", line=dict(color=BLUE_A, width=1.3, shape="hv"),
                         xaxis="x", yaxis="y"))
fb = 84
fig.add_trace(go.Scatter(x=sim_E[fb:], y=sim_C[fb:], mode="lines", line=dict(color=BLUE_A, width=0, shape="hv"),
                         fill="tozeroy", fillcolor=BLUE_A, xaxis="x", yaxis="y"))
fo = 115
fig.add_trace(go.Scatter(x=rec_E[fo:], y=rec_C[fo:], mode="lines", line=dict(color=ORANGE_A, width=0, shape="hv"),
                         fill="tozeroy", fillcolor=ORANGE_A, xaxis="x", yaxis="y"))
fig.add_trace(go.Scatter(x=rec_E, y=rec_C, mode="lines", line=dict(color=ORANGE_A, width=1.3, shape="hv"),
                         xaxis="x", yaxis="y"))
fig.add_trace(go.Scatter(x=model_E, y=model_C, mode="lines", line=dict(color="black", width=1.4),
                         xaxis="x", yaxis="y"))

# --- residual panels ---
fig.add_trace(go.Scatter(x=res_E, y=res_sim, mode="lines", line=dict(color="#1571b5", width=1.0, shape="hv"),
                         xaxis="x2", yaxis="y2"))
fig.add_trace(go.Scatter(x=res_E, y=res_rec, mode="lines", line=dict(color="#d95f0e", width=1.0, shape="hv"),
                         xaxis="x3", yaxis="y3"))

# --- scatter panels ---
scatter_cfg = [
    (4, norm1_pts, obs_norm1, [0.9152, 0.9935], [0.9084, 1.0003]),
    (5, sigma_pts, obs_sigma, [0.004983, 0.01623], [0.00362, 0.0177]),
    (6, redshift_pts, obs_redshift, [0.2776, 0.30163], [0.2757, 0.30508]),
    (7, norm2_pts, obs_norm2, [0.0257, 0.3794], [-0.0104, 0.423]),
]
for n, pts, obs, xr, yr in scatter_cfg:
    xs = [p[0] for p in pts]
    ys = [p[1] for p in pts]
    fig.add_trace(go.Scatter(x=xs, y=ys, mode="markers",
                             marker=dict(size=6.5, color="rgba(26,100,160,0.75)",
                                         line=dict(color="rgba(0,5,15,0.95)", width=1.0)),
                             xaxis=f"x{n}", yaxis=f"y{n}"))
    fig.add_trace(go.Scatter(x=xr, y=xr, mode="lines", line=dict(color="black", width=1, dash="4px,2px"),
                             xaxis=f"x{n}", yaxis=f"y{n}"))
    fig.add_trace(go.Scatter(x=[obs[0]], y=[obs[1]], mode="markers",
                             marker=dict(symbol="square", size=8, color="rgba(200,145,25,0.8)",
                                         line=dict(color="rgba(70,50,0,0.9)", width=0.8)),
                             xaxis=f"x{n}", yaxis=f"y{n}"))


def axis(**kw):
    base = dict(showline=True, linecolor=INK, linewidth=1.3, mirror="allticks", ticks="inside",
                ticklen=4, tickwidth=1, tickcolor=INK, showgrid=False, zeroline=False,
                tickfont=dict(family=SERIF, size=12.5, color="#333"), ticklabeloverflow="allow")
    base.update(kw)
    return base


log_minor_x = [0.2, 0.3, 0.4, 0.5, 0.6, 0.7, 0.8, 0.9, 2, 3, 4, 5, 6, 7, 8, 9]
log_minor_y = [m * 10.0 ** k for k in range(-3, 7) for m in range(2, 10)]
ymaj = [10.0 ** k for k in range(-2, 7)]
ytxt = ["10<sup>\u22122</sup>", "10<sup>\u22121</sup>"] + [f"10<sup>{k}</sup>" for k in range(0, 7)]

XD = [121 / W, 440 / W]
minor_log_x = dict(tickmode="array", tickvals=log_minor_x, ticks="inside", ticklen=2, tickcolor=INK)
small_font = dict(family=SERIF, size=10.5, color="#333")

fig.update_layout(
    xaxis=axis(domain=XD, type="log", range=[-0.719, 1.091], anchor="y", tickmode="array",
               tickvals=[1, 10], showticklabels=False, minor=minor_log_x),
    yaxis=axis(domain=[fy(561), fy(298)], type="log", range=[-2.31, 6.34], anchor="x",
               tickmode="array", tickvals=ymaj, ticktext=ytxt, tickfont=dict(family=SERIF, size=11, color="#333"),
               minor=dict(tickmode="array", tickvals=log_minor_y, ticks="inside", ticklen=2, tickcolor=INK)),
    xaxis2=axis(domain=XD, type="log", range=[-0.719, 1.091], anchor="y2", tickmode="array",
                tickvals=[1, 10], showticklabels=False, minor=minor_log_x),
    yaxis2=axis(domain=[fy(642.7), fy(585.7)], range=[-3.87, 3.87], anchor="x2", tickmode="array",
                tickvals=[-2, 0, 2], ticktext=["-2", "0", "2"], tickfont=small_font,
                minor=dict(tickmode="linear", tick0=0, dtick=0.5, ticks="inside", ticklen=2, tickcolor=INK)),
    xaxis3=axis(domain=XD, type="log", range=[-0.719, 1.091], anchor="y3", tickmode="array",
                tickvals=[1, 10], ticktext=["1.0", "10.0"], tickfont=small_font, minor=minor_log_x),
    yaxis3=axis(domain=[fy(724.3), fy(667.3)], range=[-3.87, 3.87], anchor="x3", tickmode="array",
                tickvals=[-2, 0, 2], ticktext=["-2", "0", "2"], tickfont=small_font,
                minor=dict(tickmode="linear", tick0=0, dtick=0.5, ticks="inside", ticklen=2, tickcolor=INK)),
)

SX = [682.3 / W, 952.3 / W]
sc_axes = {
    4: (dict(dtick=0.02, tickformat=".2f", mdt=0.005), dict(dtick=0.025, tickformat=".3f", mdt=0.005), (2, 137.3)),
    5: (dict(dtick=0.002, tickformat=".3f", mdt=0.0005), dict(dtick=0.005, tickformat=".3f", mdt=0.001), (188.7, 325.7)),
    6: (dict(dtick=0.005, tickformat=".3f", mdt=0.001), dict(dtick=0.01, tickformat=".2f", mdt=0.002), (376.7, 513.3)),
    7: (dict(dtick=0.1, tickformat=".1f", mdt=0.02), dict(dtick=0.2, tickformat=".1f", mdt=0.05), (564, 701.3)),
}
for n, pts, obs, xr, yr in scatter_cfg:
    xa, ya, (top, bot) = sc_axes[n]
    fig.update_layout(**{
        f"xaxis{n}": axis(domain=SX, range=xr, anchor=f"y{n}", tickmode="linear", tick0=0, dtick=xa["dtick"],
                          tickformat=xa["tickformat"],
                          minor=dict(tickmode="linear", tick0=0, dtick=xa["mdt"], ticks="inside", ticklen=2, tickcolor=INK)),
        f"yaxis{n}": axis(domain=[fy(bot), fy(top)], range=yr, anchor=f"x{n}", tickmode="linear", tick0=0,
                          dtick=ya["dtick"], tickformat=ya["tickformat"],
                          minor=dict(tickmode="linear", tick0=0, dtick=ya["mdt"], ticks="inside", ticklen=2, tickcolor=INK)),
    })

# reference lines in residual panels
shapes = []
for yref, xref, levels in (("y2", "x2 domain", [3, -2]), ("y3", "x3 domain", [2, -2])):
    for lv in levels:
        shapes.append(dict(type="line", xref=xref, yref=yref, x0=0, x1=1, y0=lv, y1=lv,
                           line=dict(color="#2b3a8a", width=1, dash="1.5px,2.5px")))
    shapes.append(dict(type="line", xref=xref, yref=yref, x0=0, x1=1, y0=0, y1=0,
                       line=dict(color="#444", width=1.2, dash="5px,3px")))

# legend of the spectrum panel (line samples + labels)
legend_colors = [BLUE_A, ORANGE_A, "black"]
legend_y = [511.7, 527.7, 543.3]
ann = []
for lab, col, ly in zip(legend_labels, legend_colors, legend_y):
    shapes.append(dict(type="line", xref="paper", yref="paper", x0=fx(206), x1=fx(232), y0=fy(ly), y1=fy(ly),
                       line=dict(color=col, width=1.6)))
    ann.append(dict(text=lab, x=fx(240), y=fy(ly), xref="paper", yref="paper", xanchor="left",
                    yanchor="middle", showarrow=False, borderpad=0,
                    font=dict(family=SERIF, size=11, color="#333")))

# ---- justified body text (Times / Liberation Serif advance widths, 1/1000 em) ----
AFM = {' ': 250, '.': 250, ',': 250, '-': 333, '(': 333, ')': 333, ':': 278, ';': 278}
AFM.update({c: w for c, w in zip("abcdefghijklmnopqrstuvwxyz",
                                 [444, 500, 444, 500, 444, 333, 500, 500, 278, 278, 500, 278, 778,
                                  500, 500, 500, 500, 333, 389, 278, 500, 500, 722, 500, 500, 444])})
AFM.update({c: w for c, w in zip("ABCDEFGHIJKLMNOPQRSTUVWXYZ",
                                 [722, 667, 667, 722, 611, 556, 722, 722, 333, 389, 722, 611, 889,
                                  722, 722, 556, 722, 667, 556, 611, 722, 722, 944, 722, 722, 611])})
AFM.update({c: 500 for c in "0123456789"})
FS = 16.6
SC = 12.0  # small caps size


def word_parts(w):
    if w.startswith("C-STAT"):
        rest = w[6:]
        txt = "C-<span style='font-size:%.1fpx'>STAT</span>%s" % (SC, rest)
        width = (AFM['C'] + AFM['-']) * FS / 1000 + sum(AFM[c] for c in "STAT") * SC / 1000 \
            + sum(AFM.get(c, 500) for c in rest) * FS / 1000
        return txt, width
    return w, sum(AFM.get(c, 500) for c in w) * FS / 1000


def place_line(line, y, target):
    words = line.split(" ")
    parts = [word_parts(w) for w in words]
    total = sum(p[1] for p in parts)
    gap = (target - total) / max(len(parts) - 1, 1)
    x = 7.0
    for txt, wd in parts:
        ann.append(dict(text=txt, x=fx(x), y=fy(y), xref="paper", yref="paper", xanchor="left",
                        yanchor="middle", showarrow=False, borderpad=0,
                        font=dict(family=SERIF, size=FS, color="black")))
        x += wd + gap


for i, line in enumerate(para1):
    place_line(line, 13 + 19.5 * i, 475 if i < len(para1) - 1 else 323)
for i, line in enumerate(para2):
    place_line(line, 183 + 19.6 * i, 475 if i < len(para2) - 1 else 380)

pfont = dict(family=SERIF, size=11, color="#333")


def note(text, x, y, angle=0, font=pfont):
    ann.append(dict(text=text, x=fx(x), y=fy(y), xref="paper", yref="paper", xanchor="center",
                    yanchor="middle", showarrow=False, textangle=angle, font=font))


note("Counts/keV", 90, 440, -90)
note("Residuals (<i>\u03c3</i>)", 88, 615.5, -90)
note("Residuals (<i>\u03c3</i>)", 88, 696.5, -90)
note(f"Simulated spectrum - Input model : C-stat={cstat_sim}", 280.5, 579)
note(f"Simulated spectrum - Reconstructed spectrum : C-stat={cstat_rec}", 280.5, 660.7)
note("Energy (keV)", 281, 746)

sfont = dict(family=SERIF, size=14, color="#333")
note("True norm", 817, 164, font=sfont)
note("Predicted norm", 638.5, 70, -90, font=sfont)
note("True Sigma", 817, 351.5, font=sfont)
note("Predicted Sigma", 638.5, 251.5, -90, font=sfont)
note("True Redshift", 817, 539, font=sfont)
note("Predicted Redshift", 638.5, 445, -90, font=sfont)
note("True norm", 817, 727, font=sfont)
note("Predicted norm", 638.5, 633, -90, font=sfont)

fig.update_traces(showlegend=False)
fig.update_layout(
    width=W, height=H, autosize=False,
    margin=dict(l=0, r=0, t=0, b=0),
    paper_bgcolor="white", plot_bgcolor="white",
    showlegend=False,
    annotations=ann, shapes=shapes,
)

fig.write_html("out.html")
